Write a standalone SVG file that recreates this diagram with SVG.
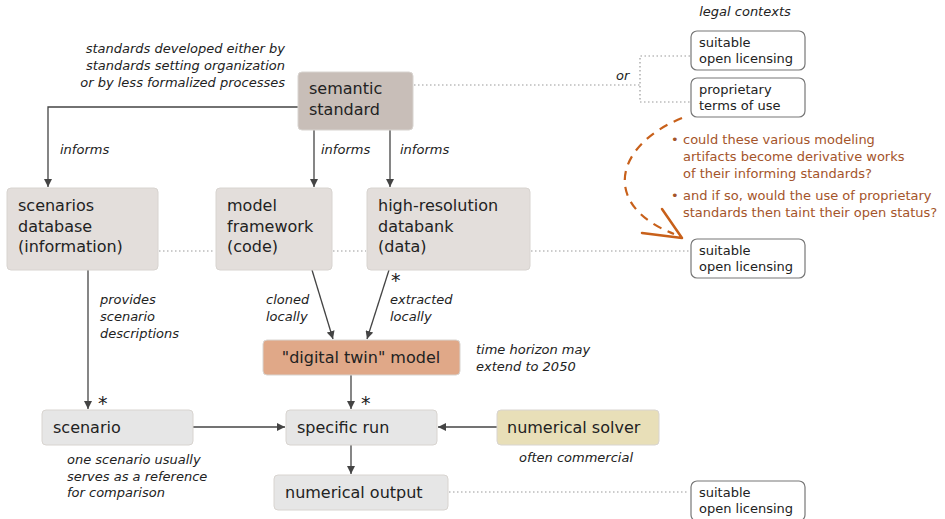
<svg xmlns="http://www.w3.org/2000/svg" width="945" height="519" viewBox="0 0 945 519">
<defs>
<marker id="ah" viewBox="0 0 10 10" refX="10" refY="5" markerWidth="8" markerHeight="8" markerUnits="userSpaceOnUse" orient="auto">
<path d="M0,0 L10,5 L0,10 z" fill="#444"/>
</marker>
<style>
text{font-family:"DejaVu Sans","Liberation Sans",sans-serif;fill:#222}
.n{font-size:16px}
.s{font-size:13px}
.i{font-size:13px;font-style:italic}
.o{font-size:13px;fill:#a4542a}
.ast{font-size:19px}
.box{stroke:#d8d4d0;stroke-width:1}
.lic{fill:#fff;stroke:#777;stroke-width:1.2}
.ln{stroke:#444;stroke-width:1.3;fill:none}
.dot{stroke:#999;stroke-width:1.2;stroke-dasharray:1.5 2.5;fill:none}
</style>
</defs>
<rect width="945" height="519" fill="#fff"/>

<g id="connectors">
<path class="ln" d="M298,107 H48 V187" marker-end="url(#ah)"/>
<path class="ln" d="M314,130 V187" marker-end="url(#ah)"/>
<path class="ln" d="M390,130 V187" marker-end="url(#ah)"/>
<path class="ln" d="M312,270 L333,339" marker-end="url(#ah)"/>
<path class="ln" d="M389,270 L367,339" marker-end="url(#ah)"/>
<path class="ln" d="M88,270 V409" marker-end="url(#ah)"/>
<path class="ln" d="M351,375 V409" marker-end="url(#ah)"/>
<path class="ln" d="M193,427 H285" marker-end="url(#ah)"/>
<path class="ln" d="M497,427 H438" marker-end="url(#ah)"/>
<path class="ln" d="M351,445 V474" marker-end="url(#ah)"/>
<path class="dot" d="M414,85 H640 M690,56 H640 V102 H690"/>
<path class="dot" d="M159,251 H215 M333,251 H366 M531,251 H689"/>
<path class="dot" d="M449,492 H689"/>
<path d="M682,118 C615,145 600,205 674,234" fill="none" stroke="#c8601a" stroke-width="2.2" stroke-dasharray="9 7"/>
<path d="M642,233 L682,238 L662,209" fill="none" stroke="#c8601a" stroke-width="2.5" stroke-linecap="round" stroke-linejoin="round"/>
</g>

<g id="labels">
<text class="i" x="285" y="53" text-anchor="end">standards developed either by</text>
<text class="i" x="285" y="70" text-anchor="end">standards setting organization</text>
<text class="i" x="285" y="87" text-anchor="end">or by less formalized processes</text>
<text class="i" x="745" y="16" text-anchor="middle">legal contexts</text>
<text class="i" x="616" y="80">or</text>
<text class="i" x="60" y="154">informs</text>
<text class="i" x="321" y="154">informs</text>
<text class="i" x="400" y="154">informs</text>
<text class="i" x="100" y="304">provides</text>
<text class="i" x="100" y="321">scenario</text>
<text class="i" x="100" y="338">descriptions</text>
<text class="i" x="266" y="304">cloned</text>
<text class="i" x="266" y="321">locally</text>
<text class="i" x="390" y="304">extracted</text>
<text class="i" x="390" y="321">locally</text>
<text class="ast" x="391" y="287">*</text>
<text class="ast" x="98" y="410">*</text>
<text class="ast" x="361" y="410">*</text>
<text class="i" x="476" y="354">time horizon may</text>
<text class="i" x="476" y="371">extend to 2050</text>
<text class="i" x="67" y="464">one scenario usually</text>
<text class="i" x="67" y="481">serves as a reference</text>
<text class="i" x="67" y="497">for comparison</text>
<text class="i" x="576" y="462" text-anchor="middle">often commercial</text>
<text class="o" x="671" y="144">•</text>
<text class="o" x="683" y="144">could these various modeling</text>
<text class="o" x="683" y="161">artifacts become derivative works</text>
<text class="o" x="683" y="178">of their informing standards?</text>
<text class="o" x="671" y="200">•</text>
<text class="o" x="683" y="200">and if so, would the use of proprietary</text>
<text class="o" x="683" y="217">standards then taint their open status?</text>
</g>

<g id="semantic-standard">
<rect class="box" x="298" y="72" width="115" height="58" rx="4" fill="#c8beb8"/>
<text class="n" x="309" y="94">semantic</text>
<text class="n" x="309" y="115">standard</text>
</g>
<g id="scenarios-database">
<rect class="box" x="7" y="188" width="151" height="82" rx="4" fill="#e3dedb"/>
<text class="n" x="18" y="211">scenarios</text>
<text class="n" x="18" y="232">database</text>
<text class="n" x="18" y="252">(information)</text>
</g>
<g id="model-framework">
<rect class="box" x="216" y="188" width="116" height="82" rx="4" fill="#e3dedb"/>
<text class="n" x="227" y="211">model</text>
<text class="n" x="227" y="232">framework</text>
<text class="n" x="227" y="252">(code)</text>
</g>
<g id="databank">
<rect class="box" x="367" y="188" width="163" height="82" rx="4" fill="#e3dedb"/>
<text class="n" x="378" y="211">high-resolution</text>
<text class="n" x="378" y="232">databank</text>
<text class="n" x="378" y="252">(data)</text>
</g>
<g id="digital-twin">
<rect class="box" x="263" y="340" width="197" height="35" rx="4" fill="#e0a888" stroke="#d49a7a"/>
<text class="n" x="361" y="363" text-anchor="middle">"digital twin" model</text>
</g>
<g id="scenario">
<rect class="box" x="42" y="410" width="151" height="35" rx="4" fill="#e6e6e6"/>
<text class="n" x="53" y="433">scenario</text>
</g>
<g id="specific-run">
<rect class="box" x="286" y="410" width="151" height="35" rx="4" fill="#e6e6e6"/>
<text class="n" x="297" y="433">specific run</text>
</g>
<g id="numerical-solver">
<rect class="box" x="497" y="410" width="162" height="35" rx="4" fill="#e8dfb8"/>
<text class="n" x="507" y="433">numerical solver</text>
</g>
<g id="numerical-output">
<rect class="box" x="274" y="475" width="174" height="35" rx="4" fill="#e6e6e6"/>
<text class="n" x="285" y="498">numerical output</text>
</g>
<g id="licensing-1">
<rect class="lic" x="691" y="31" width="114" height="39" rx="6"/>
<text class="s" x="699" y="47">suitable</text>
<text class="s" x="699" y="63">open licensing</text>
</g>
<g id="proprietary">
<rect class="lic" x="691" y="78" width="114" height="39" rx="6"/>
<text class="s" x="699" y="94">proprietary</text>
<text class="s" x="699" y="110">terms of use</text>
</g>
<g id="licensing-2">
<rect class="lic" x="691" y="239" width="114" height="39" rx="6"/>
<text class="s" x="699" y="255">suitable</text>
<text class="s" x="699" y="271">open licensing</text>
</g>
<g id="licensing-3">
<rect class="lic" x="691" y="481" width="114" height="40" rx="6"/>
<text class="s" x="699" y="497">suitable</text>
<text class="s" x="699" y="513">open licensing</text>
</g>
</svg>
